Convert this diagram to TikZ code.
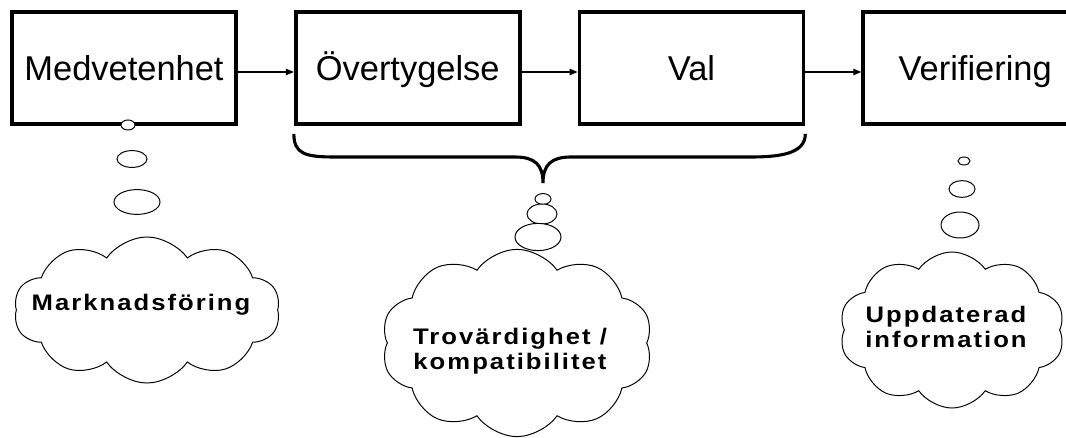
\documentclass[tikz,border=0pt]{standalone}
\usepackage{fontspec}
\setmainfont{Liberation Sans}
\newfontfamily\cloudfont{Liberation Sans Bold}[FakeStretch=1.14,LetterSpace=9]
\usetikzlibrary{arrows.meta,positioning,shapes.geometric,shapes.symbols}
\tikzset{
  stage/.style={
    draw=black, line width=2.6pt, fill=white,
    minimum width=5.6cm, minimum height=2.8cm,
    font=\fontsize{24.5}{27}\selectfont, text height=0.61cm, text depth=0pt
  },
  bubble/.style={ellipse, draw=black, line width=0.7pt, fill=white, inner sep=0pt},
  thought/.style={
    cloud, cloud puffs=10, cloud puff arc=110, draw=black, line width=0.7pt,
    inner sep=0pt
  },
  thoughttext/.style={
    align=center, font=\fontsize{16}{18}\selectfont\cloudfont
  },
  flow/.style={-{Triangle[length=2mm,width=1.6mm]}, line width=0.8pt},
  brace/.style={line width=2.2pt}
}

\begin{document}
\begin{tikzpicture}[x=0.025cm, y=-0.025cm, node distance=1.4cm]
  \useasboundingbox (0,0) rectangle (1066,438);
  % steps
  \node[stage] (med) at (124,68) {Medvetenhet};
  \node[stage,right=of med] (over) {Övertygelse};
  \node[stage,right=of over] (val) {Val};
  \node[stage,right=of val] (ver) {Verifiering};
  \draw[flow] ([yshift=-0.1cm]med.east) -- ([yshift=-0.1cm]over.west);
  \draw[flow] ([yshift=-0.1cm]over.east) -- ([yshift=-0.1cm]val.west);
  \draw[flow] ([yshift=-0.1cm]val.east) -- ([yshift=-0.1cm]ver.west);
  % brace under the middle steps
  \coordinate (tip) at (543,183);
  \draw[brace] ([yshift=-0.2cm]over.south west)
    .. controls +(0,20) and +(-30,0) .. (335,157) -- (515,157)
    .. controls (535,157) and (543,165) .. (tip)
    .. controls (543,165) and (551,157) .. (571,157) -- (750,157)
    .. controls +(30,0) and +(0,20) .. ([yshift=-0.2cm]val.south east);
  % thoughts
  \node[bubble, minimum width=0.35cm, minimum height=0.25cm] (m1) at (128,125) {};
  \node[bubble, minimum width=0.75cm, minimum height=0.42cm] (m2) at (132,159) {};
  \node[bubble, minimum width=1.15cm, minimum height=0.62cm] (m3) at (137,202) {};
  \node[thought, minimum width=6.65cm, minimum height=3.65cm] (mc) at (147,310) {};
  \node[thoughttext] at (141,305) {Marknadsföring};

  \node[bubble, minimum width=0.4cm, minimum height=0.27cm] (t1) at (543,199) {};
  \node[bubble, minimum width=0.75cm, minimum height=0.5cm] (t2) at (542,214) {};
  \node[bubble, minimum width=1.15cm, minimum height=0.68cm] (t3) at (538,237) {};
  \node[thought, minimum width=6.78cm, minimum height=4.68cm] (tc) at (517,343) {};
  \node[thoughttext] at (510,351) {Trovärdighet /\\kompatibilitet};

  \node[bubble, minimum width=0.3cm, minimum height=0.2cm] (u1) at (964,161) {};
  \node[bubble, minimum width=0.65cm, minimum height=0.42cm] (u2) at (962,189) {};
  \node[bubble, minimum width=0.95cm, minimum height=0.65cm] (u3) at (960,225) {};
  \node[thought, minimum width=5.63cm, minimum height=3.9cm] (uc) at (952,330) {};
  \node[thoughttext] at (946,327) {Uppdaterad\\information};
\end{tikzpicture}
\end{document}
